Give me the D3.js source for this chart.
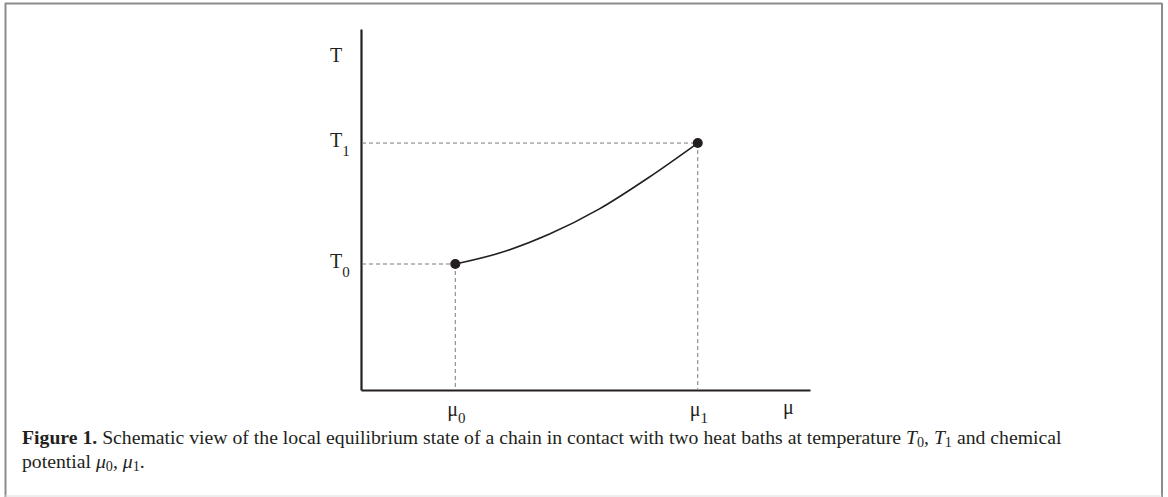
<!DOCTYPE html>
<html><head><meta charset="utf-8">
<script src="https://cdn.jsdelivr.net/npm/d3@7"></script>
<style>
html,body{margin:0;padding:0;background:#fff;}
svg{display:block;}
text{font-family:"Liberation Serif","DejaVu Serif",serif;fill:#231f20;}
</style></head>
<body>
<svg id="chart" width="1168" height="497"></svg>
<script>
// ---- data (arbitrary schematic units) ----
const muValues = [0.21, 0.31, 0.42, 0.53, 0.64, 0.75];
const tValues  = [0.349, 0.380, 0.432, 0.501, 0.588, 0.684];
const endpointIdx = [0, 5];
const xTickLabels = [["μ","0"],["μ","1"]];
const yTickLabels = [["T","0"],["T","1"]];
const xAxisTitle = "μ";
const yAxisTitle = "T";
const captionBold = "Figure 1.";
const captionLine1 = " Schematic view of the local equilibrium state of a chain in contact with two heat baths at temperature ";
const captionLine2 = "potential ";

const svg = d3.select("#chart");

// frame
svg.append("line").attr("x1",5).attr("y1",3.5).attr("x2",1162).attr("y2",3.5).attr("stroke","#8c8c8c").attr("stroke-width",2);
svg.append("line").attr("x1",5.5).attr("y1",3).attr("x2",5.5).attr("y2",497).attr("stroke","#8c8c8c").attr("stroke-width",2);
svg.append("line").attr("x1",1162).attr("y1",3).attr("x2",1162).attr("y2",497).attr("stroke","#8c8c8c").attr("stroke-width",2);
svg.append("line").attr("x1",5).attr("y1",496).attr("x2",1162).attr("y2",496).attr("stroke","#dcdcdc").attr("stroke-width",1);

const x = d3.scaleLinear().domain([0,1]).range([361,810]);
const y = d3.scaleLinear().domain([0,1]).range([390,29]);

// axes (no ticks)
const gx = svg.append("g").attr("transform",`translate(0,${y(0)})`)
  .call(d3.axisBottom(x).tickValues([]).tickSizeOuter(0));
const gy = svg.append("g").attr("transform",`translate(${x(0)},0)`)
  .call(d3.axisLeft(y).tickValues([]).tickSizeOuter(0));
[gx,gy].forEach(g=>g.select(".domain").attr("stroke","#231f20").attr("stroke-width",2.2));

// dashed guides
endpointIdx.forEach(i=>{
  svg.append("line").attr("x1",x(0)+1).attr("x2",x(muValues[i])).attr("y1",y(tValues[i])).attr("y2",y(tValues[i]))
    .attr("stroke","#7a7a7a").attr("stroke-width",1).attr("stroke-dasharray","4,3");
  svg.append("line").attr("x1",x(muValues[i])).attr("x2",x(muValues[i])).attr("y1",y(tValues[i])).attr("y2",y(0)-1)
    .attr("stroke","#7a7a7a").attr("stroke-width",1).attr("stroke-dasharray","4,3");
});

// curve
const pts = muValues.map((m,i)=>[m,tValues[i]]);
svg.append("path").datum(pts)
  .attr("d", d3.line().x(d=>x(d[0])).y(d=>y(d[1])).curve(d3.curveMonotoneX))
  .attr("fill","none").attr("stroke","#231f20").attr("stroke-width",1.6);

// endpoints
svg.selectAll("circle.pt").data(endpointIdx).enter().append("circle")
  .attr("cx",i=>x(muValues[i])).attr("cy",i=>y(tValues[i])).attr("r",5).attr("fill","#231f20");

// y labels
yTickLabels.forEach((lab,k)=>{
  const i = endpointIdx[k];
  const t = svg.append("text").attr("x",330).attr("y",y(tValues[i])+4).attr("font-size",20);
  t.append("tspan").text(lab[0]);
  t.append("tspan").attr("dy",9).attr("font-size",15).text(lab[1]);
});
svg.append("text").attr("x",330).attr("y",62).attr("font-size",20).text(yAxisTitle);

// x labels
xTickLabels.forEach((lab,k)=>{
  const i = endpointIdx[k];
  const t = svg.append("text").attr("x",x(muValues[i])-8).attr("y",416).attr("font-size",20);
  t.append("tspan").text(lab[0]);
  t.append("tspan").attr("dy",7).attr("font-size",15).text(lab[1]);
});
svg.append("text").attr("x",783).attr("y",414).attr("font-size",20).text(xAxisTitle);

// caption
const cap1 = svg.append("text").attr("x",22).attr("y",444).attr("font-size",17);
cap1.append("tspan").attr("font-weight","bold").text(captionBold);
cap1.append("tspan").text(captionLine1);
cap1.append("tspan").attr("font-style","italic").text("T");
cap1.append("tspan").attr("dy",3).attr("font-size",12).text("0");
cap1.append("tspan").attr("dy",-3).text(", ");
cap1.append("tspan").attr("font-style","italic").text("T");
cap1.append("tspan").attr("dy",3).attr("font-size",12).text("1");
cap1.append("tspan").attr("dy",-3).text(" and chemical");

const cap2 = svg.append("text").attr("x",22).attr("y",468).attr("font-size",17);
cap2.append("tspan").text(captionLine2);
cap2.append("tspan").attr("font-style","italic").text("μ");
cap2.append("tspan").attr("dy",3).attr("font-size",12).text("0");
cap2.append("tspan").attr("dy",-3).text(", ");
cap2.append("tspan").attr("font-style","italic").text("μ");
cap2.append("tspan").attr("dy",3).attr("font-size",12).text("1");
cap2.append("tspan").attr("dy",-3).text(".");

// fit caption line 1 width to reference (~1040px)
const w = cap1.node().getComputedTextLength();
const fs = 17*1040/w;
cap1.attr("font-size",fs); cap2.attr("font-size",fs);
cap1.selectAll("tspan").filter(function(){return d3.select(this).attr("font-size")==="12";}).attr("font-size",fs*0.72);
cap2.selectAll("tspan").filter(function(){return d3.select(this).attr("font-size")==="12";}).attr("font-size",fs*0.72);
</script>
</body></html>
